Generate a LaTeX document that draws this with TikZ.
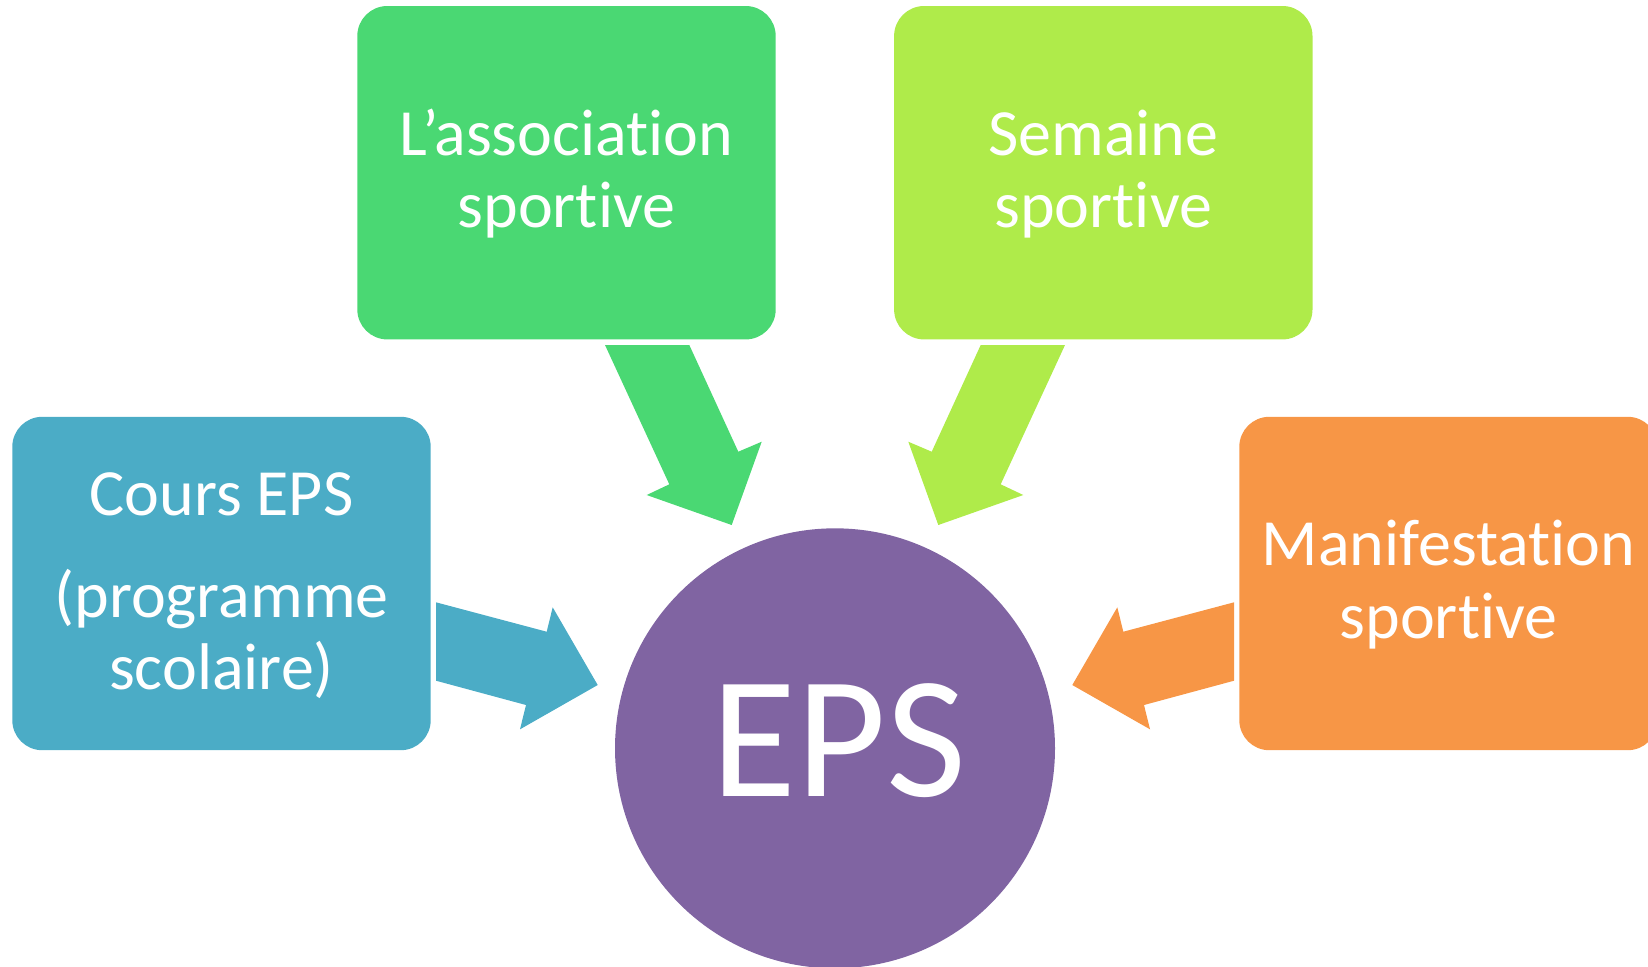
\documentclass[tikz,border=0pt]{standalone}
\usepackage{fontspec}
\setmainfont{Carlito}[Ligatures={NoCommon}]
\definecolor{cblue}{HTML}{4BACC6}
\definecolor{cgreen}{HTML}{4AD873}
\definecolor{clime}{HTML}{AFEB4A}
\definecolor{corange}{HTML}{F79646}
\definecolor{cpurple}{HTML}{8064A2}
\begin{document}
\begin{tikzpicture}[x=0.5pt,y=-0.5pt,
  box/.style={rectangle, rounded corners=15pt, minimum width=209.2pt, minimum height=166.7pt, inner sep=0pt},
  lbl/.style={text=white, anchor=base, inner sep=0pt, font=\fontsize{33}{36.4}\selectfont},
  hub/.style={circle, minimum size=220pt, inner sep=0pt, fill=cpurple},
  hubtext/.style={text=white, anchor=base, inner sep=0pt, font=\fontsize{87}{100}\selectfont}]
\useasboundingbox (0,0) rectangle (1648,966);
\clip (0,0) rectangle (1648,966);
% boxes
\node[box, fill=cgreen] (assoc) at (566.5,172.7) {};
\node[box, fill=clime] (semaine) at (1103.3,172.7) {};
\node[box, fill=cblue] (cours) at (221.5,583.5) {};
\node[box, fill=corange] (manif) at (1448.5,583.5) {};
\node[hub] (eps) at (835,748.3) {};
% texts
\node[lbl] (assoc-t) at (566.5,155) {\begin{tabular}[t]{@{}c@{}}L’association\\sportive\end{tabular}};
\node[lbl] (semaine-t) at (1103.3,155) {\begin{tabular}[t]{@{}c@{}}Semaine\\sportive\end{tabular}};
\node[lbl] (cours-t) at (221.5,515) {\begin{tabular}[t]{@{}c@{}}Cours EPS\\[14.6pt](programme\\scolaire)\end{tabular}};
\node[lbl] (manif-t) at (1448.5,565.7) {\begin{tabular}[t]{@{}c@{}}Manifestation\\sportive\end{tabular}};
\node[hubtext] (eps-t) at (839,796.7) {EPS};
% block arrows
\fill[cgreen] (605,345) -- (689.3,345) -- (738.3,451.7) -- (761.7,441.7) -- (731.7,525) -- (646.7,495) -- (669.3,484.3) -- cycle;
\fill[clime] (1065,345) -- (980.7,345) -- (931.7,451.7) -- (908.3,441.7) -- (938.3,525) -- (1023.3,495) -- (1000.7,484.3) -- cycle;
\fill[cblue] (436,602.3) -- (546.7,631.7) -- (552.7,607.3) -- (597.7,685) -- (520,729.3) -- (526,705) -- (436,680.7) -- cycle;
\fill[corange] (1234,602.3) -- (1123.3,631.7) -- (1117.3,607.3) -- (1072.3,685) -- (1150,729.3) -- (1144,705) -- (1234,680.7) -- cycle;
\end{tikzpicture}
\end{document}
